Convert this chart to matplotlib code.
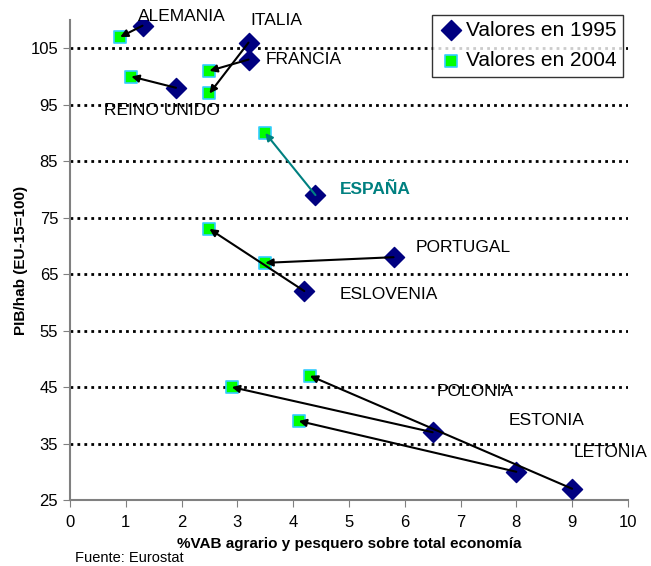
import matplotlib
matplotlib.use('Agg')
import matplotlib.pyplot as plt
import numpy as np

plt.rcParams['font.family'] = ['Liberation Sans', 'DejaVu Sans']

paises = ['ALEMANIA', 'ITALIA', 'FRANCIA', 'REINO UNIDO', 'ESPAÑA',
          'PORTUGAL', 'ESLOVENIA', 'POLONIA', 'ESTONIA', 'LETONIA']
vab_1995 = [1.3, 3.2, 3.2, 1.9, 4.4, 5.8, 4.2, 6.5, 8.0, 9.0]
pib_1995 = [109, 106, 103, 98, 79, 68, 62, 37, 30, 27]
vab_2004 = [0.9, 2.5, 2.5, 1.1, 3.5, 3.5, 2.5, 2.9, 4.1, 4.3]
pib_2004 = [107, 97, 101, 100, 90, 67, 73, 45, 39, 47]
# posicion de las etiquetas (x, y en unidades de datos)
lab_x = [1.22, 3.23, 3.51, 0.61, 4.84, 6.2, 4.84, 6.58, 7.87, 9.03]
lab_y = [110.7, 110.0, 103.0, 94.0, 80.0, 69.7, 61.4, 44.2, 39.0, 33.5]

yticks = [25, 35, 45, 55, 65, 75, 85, 95, 105]

fig = plt.figure(figsize=(6.51, 5.66), dpi=100, facecolor='white')
ax = fig.add_axes([0.1075, 0.1166, 0.857, 0.848])

for y in yticks[1:]:
    ax.axhline(y, color='black', lw=2, linestyle=(0, (1, 1.5)), zorder=1)

ax.scatter(vab_1995, pib_1995, marker='D', s=105, color='#000080',
           zorder=3, label='Valores en 1995')
ax.scatter(vab_2004, pib_2004, marker='s', s=75, color='#00FF00',
           edgecolors='#33CCFF', linewidths=1.2, zorder=3,
           label='Valores en 2004')

for i, p in enumerate(paises):
    col = '#008080' if p == 'ESPAÑA' else 'black'
    ax.annotate('', xy=(vab_2004[i], pib_2004[i]),
                xytext=(vab_1995[i], pib_1995[i]),
                arrowprops=dict(arrowstyle='-|>', color=col, lw=1.5,
                                mutation_scale=11, shrinkA=0, shrinkB=0),
                zorder=4)
    ax.text(lab_x[i], lab_y[i], p, fontsize=12.5, color=col,
            fontweight='bold' if p == 'ESPAÑA' else 'normal',
            ha='left', va='center', clip_on=False, zorder=5)

ax.set_xlim(0, 10)
ax.set_ylim(25, 110)
ax.set_xticks(range(0, 11))
ax.set_yticks(yticks)
ax.tick_params(labelsize=12, direction='out', length=5, color='#808080')
ax.tick_params(axis='x', pad=6)
for s in ['top', 'right']:
    ax.spines[s].set_visible(False)
for s in ['left', 'bottom']:
    ax.spines[s].set_color('#808080')
    ax.spines[s].set_linewidth(1.5)

ax.set_xlabel('%VAB agrario y pesquero sobre total economía',
              fontsize=11, fontweight='bold', labelpad=5)
ax.set_ylabel('PIB/hab (EU-15=100)', fontsize=11, fontweight='bold',
              labelpad=2)

leg = ax.legend(loc='upper right', bbox_to_anchor=(0.998, 1.02), fontsize=15,
                frameon=True, fancybox=False, edgecolor='black',
                handletextpad=0.1, borderpad=0.3, labelspacing=0.55,
                handlelength=1.2, borderaxespad=0.2)
leg.get_frame().set_linewidth(1.0)

fig.text(75 / 651, 1 - 558 / 566, 'Fuente: Eurostat', fontsize=10.5,
         ha='left', va='center')

fig.savefig('out.png', dpi=100, facecolor='white')
